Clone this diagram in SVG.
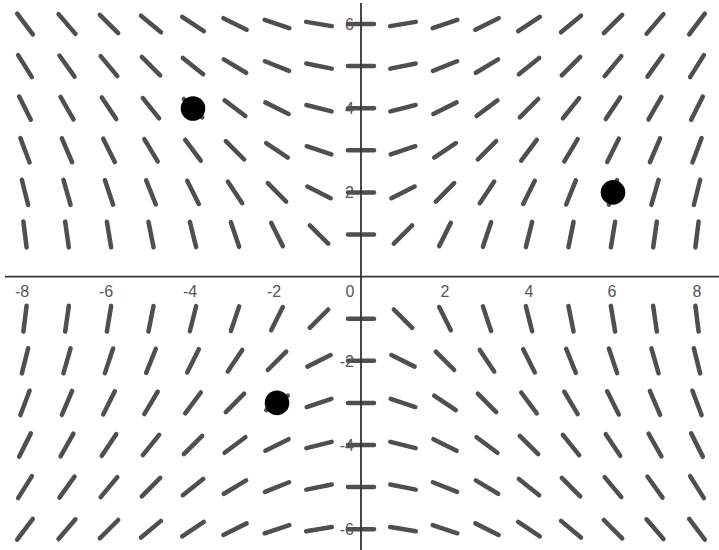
<svg xmlns="http://www.w3.org/2000/svg" xmlns:xlink="http://www.w3.org/1999/xlink" width="719" height="550" viewBox="0 0 719 550">
<style>
.seg{stroke:#4f4f4f;stroke-width:4.5;stroke-linecap:round;fill:none}
.ax{stroke:#333;stroke-width:1.8;fill:none}
.lbl{font-family:"Liberation Sans",Arial,sans-serif;font-size:16px;fill:#555}
.xl{text-anchor:middle}
.yl{text-anchor:end}
.dot{fill:#000}
</style>
<defs>
<line id="s" class="seg" x1="-13" y1="0" x2="13" y2="0"/>
</defs>
<rect width="719" height="550" fill="#fff"/>
<g id="field">
<g transform="translate(0 24)">
<use href="#s" transform="translate(25) rotate(53.13)"/><use href="#s" transform="translate(67) rotate(49.4)"/><use href="#s" transform="translate(109) rotate(45)"/><use href="#s" transform="translate(151) rotate(39.81)"/><use href="#s" transform="translate(193) rotate(33.69)"/><use href="#s" transform="translate(235) rotate(26.57)"/><use href="#s" transform="translate(277) rotate(18.43)"/><use href="#s" transform="translate(319) rotate(9.46)"/><use href="#s" transform="translate(361)"/><use href="#s" transform="translate(403) rotate(-9.46)"/><use href="#s" transform="translate(445) rotate(-18.43)"/><use href="#s" transform="translate(487) rotate(-26.57)"/><use href="#s" transform="translate(529) rotate(-33.69)"/><use href="#s" transform="translate(571) rotate(-39.81)"/><use href="#s" transform="translate(613) rotate(-45)"/><use href="#s" transform="translate(655) rotate(-49.4)"/><use href="#s" transform="translate(697) rotate(-53.13)"/>
</g>
<g transform="translate(0 66.1)">
<use href="#s" transform="translate(25) rotate(57.99)"/><use href="#s" transform="translate(67) rotate(54.46)"/><use href="#s" transform="translate(109) rotate(50.19)"/><use href="#s" transform="translate(151) rotate(45)"/><use href="#s" transform="translate(193) rotate(38.66)"/><use href="#s" transform="translate(235) rotate(30.96)"/><use href="#s" transform="translate(277) rotate(21.8)"/><use href="#s" transform="translate(319) rotate(11.31)"/><use href="#s" transform="translate(361)"/><use href="#s" transform="translate(403) rotate(-11.31)"/><use href="#s" transform="translate(445) rotate(-21.8)"/><use href="#s" transform="translate(487) rotate(-30.96)"/><use href="#s" transform="translate(529) rotate(-38.66)"/><use href="#s" transform="translate(571) rotate(-45)"/><use href="#s" transform="translate(613) rotate(-50.19)"/><use href="#s" transform="translate(655) rotate(-54.46)"/><use href="#s" transform="translate(697) rotate(-57.99)"/>
</g>
<g transform="translate(0 108.2)">
<use href="#s" transform="translate(25) rotate(63.43)"/><use href="#s" transform="translate(67) rotate(60.26)"/><use href="#s" transform="translate(109) rotate(56.31)"/><use href="#s" transform="translate(151) rotate(51.34)"/><use href="#s" transform="translate(193) rotate(45)"/><use href="#s" transform="translate(235) rotate(36.87)"/><use href="#s" transform="translate(277) rotate(26.57)"/><use href="#s" transform="translate(319) rotate(14.04)"/><use href="#s" transform="translate(361)"/><use href="#s" transform="translate(403) rotate(-14.04)"/><use href="#s" transform="translate(445) rotate(-26.57)"/><use href="#s" transform="translate(487) rotate(-36.87)"/><use href="#s" transform="translate(529) rotate(-45)"/><use href="#s" transform="translate(571) rotate(-51.34)"/><use href="#s" transform="translate(613) rotate(-56.31)"/><use href="#s" transform="translate(655) rotate(-60.26)"/><use href="#s" transform="translate(697) rotate(-63.43)"/>
</g>
<g transform="translate(0 150.3)">
<use href="#s" transform="translate(25) rotate(69.44)"/><use href="#s" transform="translate(67) rotate(66.8)"/><use href="#s" transform="translate(109) rotate(63.43)"/><use href="#s" transform="translate(151) rotate(59.04)"/><use href="#s" transform="translate(193) rotate(53.13)"/><use href="#s" transform="translate(235) rotate(45)"/><use href="#s" transform="translate(277) rotate(33.69)"/><use href="#s" transform="translate(319) rotate(18.43)"/><use href="#s" transform="translate(361)"/><use href="#s" transform="translate(403) rotate(-18.43)"/><use href="#s" transform="translate(445) rotate(-33.69)"/><use href="#s" transform="translate(487) rotate(-45)"/><use href="#s" transform="translate(529) rotate(-53.13)"/><use href="#s" transform="translate(571) rotate(-59.04)"/><use href="#s" transform="translate(613) rotate(-63.43)"/><use href="#s" transform="translate(655) rotate(-66.8)"/><use href="#s" transform="translate(697) rotate(-69.44)"/>
</g>
<g transform="translate(0 192.4)">
<use href="#s" transform="translate(25) rotate(75.96)"/><use href="#s" transform="translate(67) rotate(74.05)"/><use href="#s" transform="translate(109) rotate(71.57)"/><use href="#s" transform="translate(151) rotate(68.2)"/><use href="#s" transform="translate(193) rotate(63.43)"/><use href="#s" transform="translate(235) rotate(56.31)"/><use href="#s" transform="translate(277) rotate(45)"/><use href="#s" transform="translate(319) rotate(26.57)"/><use href="#s" transform="translate(361)"/><use href="#s" transform="translate(403) rotate(-26.57)"/><use href="#s" transform="translate(445) rotate(-45)"/><use href="#s" transform="translate(487) rotate(-56.31)"/><use href="#s" transform="translate(529) rotate(-63.43)"/><use href="#s" transform="translate(571) rotate(-68.2)"/><use href="#s" transform="translate(613) rotate(-71.57)"/><use href="#s" transform="translate(655) rotate(-74.05)"/><use href="#s" transform="translate(697) rotate(-75.96)"/>
</g>
<g transform="translate(0 234.5)">
<use href="#s" transform="translate(25) rotate(82.87)"/><use href="#s" transform="translate(67) rotate(81.87)"/><use href="#s" transform="translate(109) rotate(80.54)"/><use href="#s" transform="translate(151) rotate(78.69)"/><use href="#s" transform="translate(193) rotate(75.96)"/><use href="#s" transform="translate(235) rotate(71.57)"/><use href="#s" transform="translate(277) rotate(63.43)"/><use href="#s" transform="translate(319) rotate(45)"/><use href="#s" transform="translate(361)"/><use href="#s" transform="translate(403) rotate(-45)"/><use href="#s" transform="translate(445) rotate(-63.43)"/><use href="#s" transform="translate(487) rotate(-71.57)"/><use href="#s" transform="translate(529) rotate(-75.96)"/><use href="#s" transform="translate(571) rotate(-78.69)"/><use href="#s" transform="translate(613) rotate(-80.54)"/><use href="#s" transform="translate(655) rotate(-81.87)"/><use href="#s" transform="translate(697) rotate(-82.87)"/>
</g>
<g transform="translate(0 318.7)">
<use href="#s" transform="translate(25) rotate(-82.87)"/><use href="#s" transform="translate(67) rotate(-81.87)"/><use href="#s" transform="translate(109) rotate(-80.54)"/><use href="#s" transform="translate(151) rotate(-78.69)"/><use href="#s" transform="translate(193) rotate(-75.96)"/><use href="#s" transform="translate(235) rotate(-71.57)"/><use href="#s" transform="translate(277) rotate(-63.43)"/><use href="#s" transform="translate(319) rotate(-45)"/><use href="#s" transform="translate(361)"/><use href="#s" transform="translate(403) rotate(45)"/><use href="#s" transform="translate(445) rotate(63.43)"/><use href="#s" transform="translate(487) rotate(71.57)"/><use href="#s" transform="translate(529) rotate(75.96)"/><use href="#s" transform="translate(571) rotate(78.69)"/><use href="#s" transform="translate(613) rotate(80.54)"/><use href="#s" transform="translate(655) rotate(81.87)"/><use href="#s" transform="translate(697) rotate(82.87)"/>
</g>
<g transform="translate(0 360.8)">
<use href="#s" transform="translate(25) rotate(-75.96)"/><use href="#s" transform="translate(67) rotate(-74.05)"/><use href="#s" transform="translate(109) rotate(-71.57)"/><use href="#s" transform="translate(151) rotate(-68.2)"/><use href="#s" transform="translate(193) rotate(-63.43)"/><use href="#s" transform="translate(235) rotate(-56.31)"/><use href="#s" transform="translate(277) rotate(-45)"/><use href="#s" transform="translate(319) rotate(-26.57)"/><use href="#s" transform="translate(361)"/><use href="#s" transform="translate(403) rotate(26.57)"/><use href="#s" transform="translate(445) rotate(45)"/><use href="#s" transform="translate(487) rotate(56.31)"/><use href="#s" transform="translate(529) rotate(63.43)"/><use href="#s" transform="translate(571) rotate(68.2)"/><use href="#s" transform="translate(613) rotate(71.57)"/><use href="#s" transform="translate(655) rotate(74.05)"/><use href="#s" transform="translate(697) rotate(75.96)"/>
</g>
<g transform="translate(0 402.9)">
<use href="#s" transform="translate(25) rotate(-69.44)"/><use href="#s" transform="translate(67) rotate(-66.8)"/><use href="#s" transform="translate(109) rotate(-63.43)"/><use href="#s" transform="translate(151) rotate(-59.04)"/><use href="#s" transform="translate(193) rotate(-53.13)"/><use href="#s" transform="translate(235) rotate(-45)"/><use href="#s" transform="translate(277) rotate(-33.69)"/><use href="#s" transform="translate(319) rotate(-18.43)"/><use href="#s" transform="translate(361)"/><use href="#s" transform="translate(403) rotate(18.43)"/><use href="#s" transform="translate(445) rotate(33.69)"/><use href="#s" transform="translate(487) rotate(45)"/><use href="#s" transform="translate(529) rotate(53.13)"/><use href="#s" transform="translate(571) rotate(59.04)"/><use href="#s" transform="translate(613) rotate(63.43)"/><use href="#s" transform="translate(655) rotate(66.8)"/><use href="#s" transform="translate(697) rotate(69.44)"/>
</g>
<g transform="translate(0 445)">
<use href="#s" transform="translate(25) rotate(-63.43)"/><use href="#s" transform="translate(67) rotate(-60.26)"/><use href="#s" transform="translate(109) rotate(-56.31)"/><use href="#s" transform="translate(151) rotate(-51.34)"/><use href="#s" transform="translate(193) rotate(-45)"/><use href="#s" transform="translate(235) rotate(-36.87)"/><use href="#s" transform="translate(277) rotate(-26.57)"/><use href="#s" transform="translate(319) rotate(-14.04)"/><use href="#s" transform="translate(361)"/><use href="#s" transform="translate(403) rotate(14.04)"/><use href="#s" transform="translate(445) rotate(26.57)"/><use href="#s" transform="translate(487) rotate(36.87)"/><use href="#s" transform="translate(529) rotate(45)"/><use href="#s" transform="translate(571) rotate(51.34)"/><use href="#s" transform="translate(613) rotate(56.31)"/><use href="#s" transform="translate(655) rotate(60.26)"/><use href="#s" transform="translate(697) rotate(63.43)"/>
</g>
<g transform="translate(0 487.1)">
<use href="#s" transform="translate(25) rotate(-57.99)"/><use href="#s" transform="translate(67) rotate(-54.46)"/><use href="#s" transform="translate(109) rotate(-50.19)"/><use href="#s" transform="translate(151) rotate(-45)"/><use href="#s" transform="translate(193) rotate(-38.66)"/><use href="#s" transform="translate(235) rotate(-30.96)"/><use href="#s" transform="translate(277) rotate(-21.8)"/><use href="#s" transform="translate(319) rotate(-11.31)"/><use href="#s" transform="translate(361)"/><use href="#s" transform="translate(403) rotate(11.31)"/><use href="#s" transform="translate(445) rotate(21.8)"/><use href="#s" transform="translate(487) rotate(30.96)"/><use href="#s" transform="translate(529) rotate(38.66)"/><use href="#s" transform="translate(571) rotate(45)"/><use href="#s" transform="translate(613) rotate(50.19)"/><use href="#s" transform="translate(655) rotate(54.46)"/><use href="#s" transform="translate(697) rotate(57.99)"/>
</g>
<g transform="translate(0 529.2)">
<use href="#s" transform="translate(25) rotate(-53.13)"/><use href="#s" transform="translate(67) rotate(-49.4)"/><use href="#s" transform="translate(109) rotate(-45)"/><use href="#s" transform="translate(151) rotate(-39.81)"/><use href="#s" transform="translate(193) rotate(-33.69)"/><use href="#s" transform="translate(235) rotate(-26.57)"/><use href="#s" transform="translate(277) rotate(-18.43)"/><use href="#s" transform="translate(319) rotate(-9.46)"/><use href="#s" transform="translate(361)"/><use href="#s" transform="translate(403) rotate(9.46)"/><use href="#s" transform="translate(445) rotate(18.43)"/><use href="#s" transform="translate(487) rotate(26.57)"/><use href="#s" transform="translate(529) rotate(33.69)"/><use href="#s" transform="translate(571) rotate(39.81)"/><use href="#s" transform="translate(613) rotate(45)"/><use href="#s" transform="translate(655) rotate(49.4)"/><use href="#s" transform="translate(697) rotate(53.13)"/>
</g>
</g>
<g id="labels" class="lbl">
<text class="xl" x="22" y="297">-8</text>
<text class="xl" x="106" y="297">-6</text>
<text class="xl" x="190" y="297">-4</text>
<text class="xl" x="274" y="297">-2</text>
<text class="xl" x="350" y="297">0</text>
<text class="xl" x="445" y="297">2</text>
<text class="xl" x="529" y="297">4</text>
<text class="xl" x="612" y="297">6</text>
<text class="xl" x="697" y="297">8</text>
<text class="yl" x="354" y="30">6</text>
<text class="yl" x="354" y="114">4</text>
<text class="yl" x="354" y="198">2</text>
<text class="yl" x="354" y="367">-2</text>
<text class="yl" x="354" y="451">-4</text>
<text class="yl" x="354" y="535">-6</text>
</g>
<g id="axes">
<line class="ax" x1="5" y1="276.6" x2="719" y2="276.6"/>
<line class="ax" x1="361" y1="3" x2="361" y2="550"/>
</g>
<g id="points">
<circle class="dot" cx="193" cy="108.5" r="12.3"/>
<circle class="dot" cx="613" cy="192.4" r="12.3"/>
<circle class="dot" cx="277" cy="402.9" r="12.3"/>
</g>
</svg>
